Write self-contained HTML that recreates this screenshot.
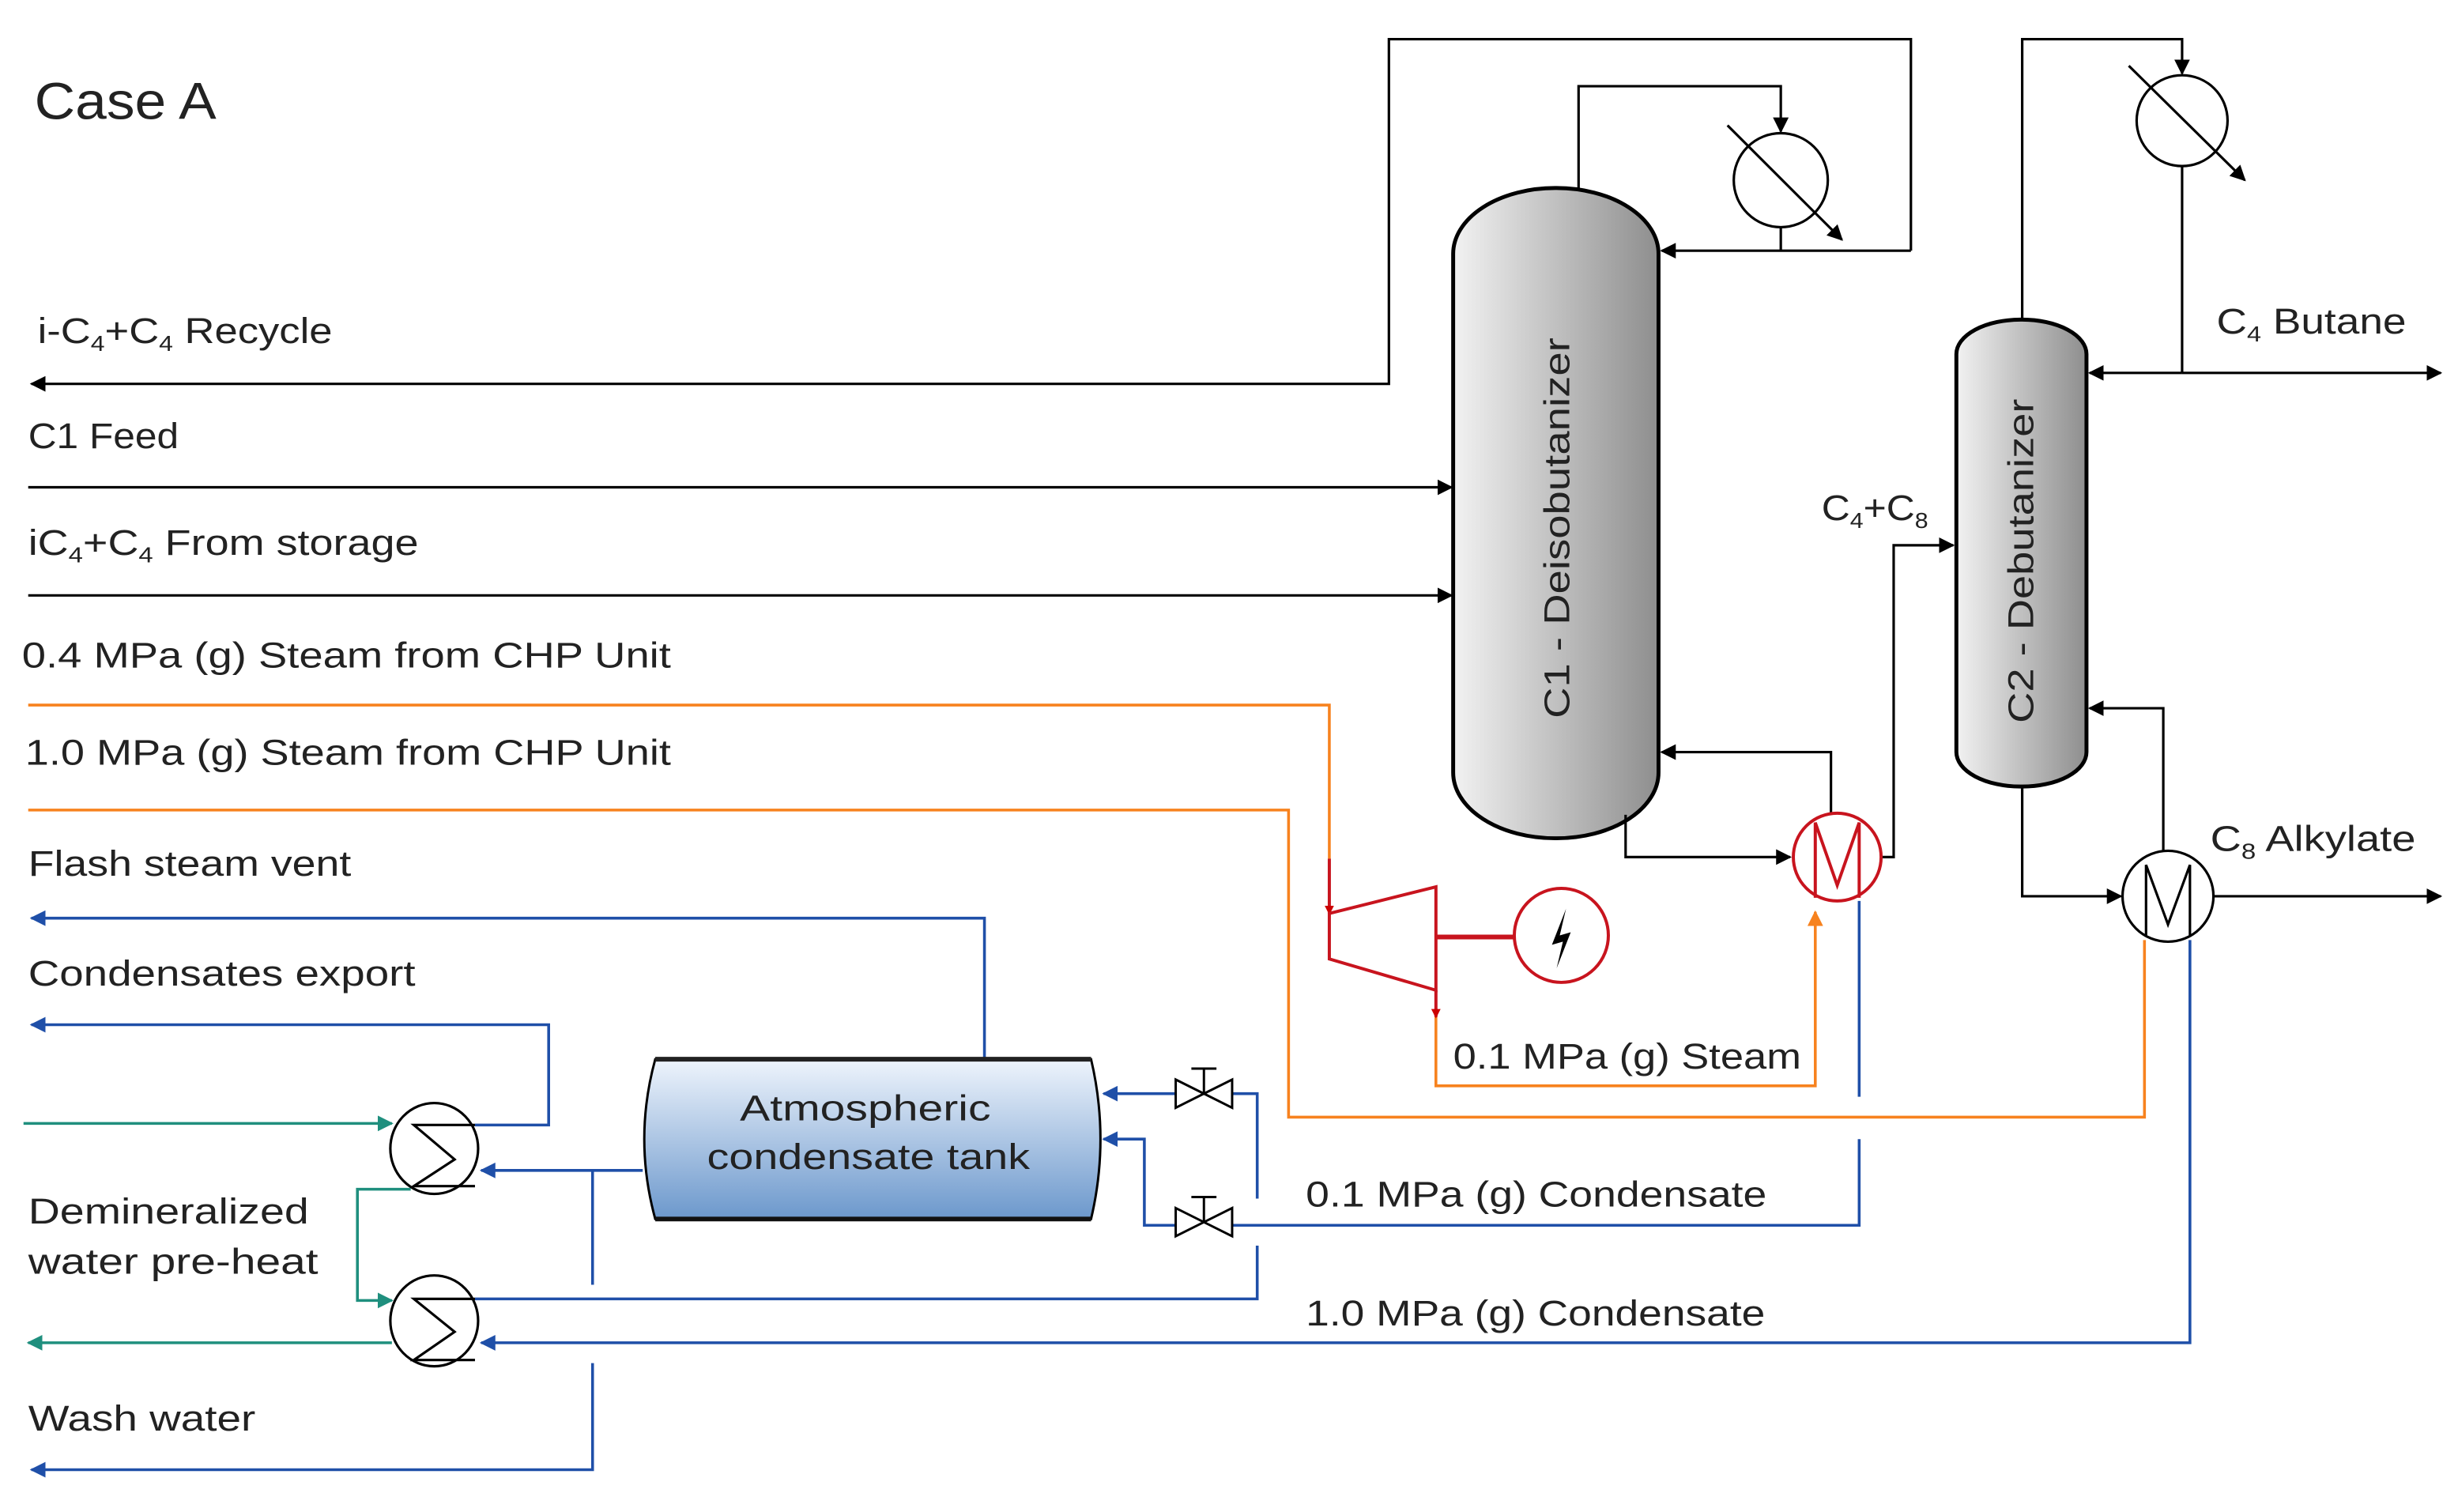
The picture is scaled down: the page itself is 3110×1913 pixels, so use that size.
<!DOCTYPE html>
<html><head><meta charset="utf-8"><style>
html,body{margin:0;padding:0;background:#fff}
svg{display:block}
text{font-family:"Liberation Sans",sans-serif;fill:#222}
</style></head><body>
<svg width="3110" height="1913" viewBox="0 0 1568 965" preserveAspectRatio="none" xmlns="http://www.w3.org/2000/svg">
<defs>
<linearGradient id="g" x1="0" x2="1" y1="0" y2="0"><stop offset="0" stop-color="#f2f2f2"/><stop offset="1" stop-color="#8e8e8e"/></linearGradient>
<linearGradient id="b" x1="0" x2="0" y1="0" y2="1"><stop offset="0" stop-color="#eef4fc"/><stop offset="1" stop-color="#6c98cc"/></linearGradient>
<marker id="ak" markerWidth="10" markerHeight="10" refX="9" refY="5" orient="auto" markerUnits="userSpaceOnUse"><path d="M0,0 L10,5 L0,10 Z" fill="#000"/></marker>
<marker id="ab" markerWidth="10" markerHeight="10" refX="9" refY="5" orient="auto" markerUnits="userSpaceOnUse"><path d="M0,0 L10,5 L0,10 Z" fill="#1f4fa8"/></marker>
<marker id="at" markerWidth="10" markerHeight="10" refX="9" refY="5" orient="auto" markerUnits="userSpaceOnUse"><path d="M0,0 L10,5 L0,10 Z" fill="#1f8f7e"/></marker>
<marker id="ao" markerWidth="10" markerHeight="10" refX="9" refY="5" orient="auto" markerUnits="userSpaceOnUse"><path d="M0,0 L10,5 L0,10 Z" fill="#f7821e"/></marker>
<marker id="ar" markerWidth="6" markerHeight="6" refX="5" refY="3" orient="auto" markerUnits="userSpaceOnUse"><path d="M0,0 L6,3 L0,6 Z" fill="#c00"/></marker>
</defs>
<text x="22" y="76" font-size="33" textLength="116" lengthAdjust="spacingAndGlyphs">Case A</text>

<!-- columns -->
<rect x="927" y="120" width="131" height="415" rx="65" ry="42" fill="url(#g)" stroke="#000" stroke-width="2.5"/>
<text transform="translate(1001,337) rotate(-90)" text-anchor="middle" font-size="23" textLength="243" lengthAdjust="spacingAndGlyphs">C1 - Deisobutanizer</text>
<rect x="1248" y="204" width="83" height="298" rx="41" ry="22" fill="url(#g)" stroke="#000" stroke-width="2.5"/>
<text transform="translate(1297,358) rotate(-90)" text-anchor="middle" font-size="23" textLength="207" lengthAdjust="spacingAndGlyphs">C2 - Debutanizer</text>

<g fill="none" stroke="#000" stroke-width="1.6">
<polyline points="1007,120 1007,55 1136,55 1136,84" marker-end="url(#ak)"/>
<polyline points="1219,160 1060,160" marker-end="url(#ak)"/>
<line x1="1136" y1="145" x2="1136" y2="160"/>
<polyline points="1219,160 1219,25 886,25 886,245 20,245" marker-end="url(#ak)"/>
<circle cx="1136" cy="115" r="30"/>
<line x1="1102" y1="80" x2="1175" y2="153" marker-end="url(#ak)"/>
<polyline points="1290,204 1290,25 1392,25 1392,47" marker-end="url(#ak)"/>
<circle cx="1392" cy="77" r="29"/>
<line x1="1358" y1="42" x2="1432" y2="115" marker-end="url(#ak)"/>
<line x1="1392" y1="106" x2="1392" y2="238"/>
<line x1="1392" y1="238" x2="1333" y2="238" marker-end="url(#ak)"/>
<line x1="1392" y1="238" x2="1557" y2="238" marker-end="url(#ak)"/>
<line x1="18" y1="311" x2="926" y2="311" marker-end="url(#ak)"/>
<line x1="18" y1="380" x2="926" y2="380" marker-end="url(#ak)"/>
<polyline points="1037,520 1037,547 1142,547" marker-end="url(#ak)"/>
<polyline points="1168,520 1168,480 1060,480" marker-end="url(#ak)"/>
<polyline points="1200,547 1208,547 1208,348 1246,348" marker-end="url(#ak)"/>
<polyline points="1290,502 1290,572 1353,572" marker-end="url(#ak)"/>
<line x1="1412" y1="572" x2="1557" y2="572" marker-end="url(#ak)"/>
<polyline points="1380,543 1380,452 1333,452" marker-end="url(#ak)"/>
<circle cx="1383" cy="572" r="29"/>
<polyline points="1369,598 1369,552 1383,590 1397,552 1397,598"/>
</g>

<g fill="none" stroke="#f7821e" stroke-width="1.8">
<polyline points="18,450 848,450 848,548"/>
<polyline points="18,517 822,517 822,713 1368,713 1368,600"/>
<polyline points="916,648 916,693 1158,693 1158,582" marker-end="url(#ao)"/>
</g>
<g fill="none" stroke="#c8141e" stroke-width="2">
<line x1="848" y1="548" x2="848" y2="583" marker-end="url(#ar)"/>
<polygon points="848,583 916,566 916,632 848,612"/>
<line x1="916" y1="632" x2="916" y2="649" marker-end="url(#ar)"/>
<line x1="916" y1="598" x2="966" y2="598" stroke-width="3"/>
<circle cx="996" cy="597" r="30"/>
<circle cx="1172" cy="547" r="28"/>
<polyline points="1158,573 1158,525 1172,565 1186,525 1186,573"/>
</g>
<path d="M999,580 L990,603 L997,601 L993,618 L1002,595 L995,597 Z" fill="#000"/>

<g fill="none" stroke="#1f4fa8" stroke-width="1.8">
<polyline points="628,676 628,586 20,586" marker-end="url(#ab)"/>
<polyline points="303,718 350,718 350,654 20,654" marker-end="url(#ab)"/>
<line x1="410" y1="747" x2="307" y2="747" marker-end="url(#ab)"/>
<line x1="378" y1="747" x2="378" y2="820"/>
<polyline points="378,870 378,938 20,938" marker-end="url(#ab)"/>
<line x1="1186" y1="575" x2="1186" y2="700"/>
<polyline points="1186,727 1186,782 786,782"/>
<polyline points="750,782 730,782 730,727 704,727" marker-end="url(#ab)"/>
<line x1="750" y1="698" x2="704" y2="698" marker-end="url(#ab)"/>
<polyline points="786,698 802,698 802,765"/>
<polyline points="802,795 802,829 303,829"/>
<polyline points="1397,600 1397,857 307,857" marker-end="url(#ab)"/>
</g>
<g fill="none" stroke="#000" stroke-width="1.5">
<path d="M750,689 L786,707 L786,689 L750,707 Z M768,698 L768,682 M760,682 L776,682"/>
<path d="M750,771 L786,789 L786,771 L750,789 Z M768,780 L768,764 M760,764 L776,764"/>
</g>
<g fill="none" stroke="#1f8f7e" stroke-width="1.8">
<line x1="15" y1="717" x2="250" y2="717" marker-end="url(#at)"/>
<polyline points="262,759 228,759 228,830 250,830" marker-end="url(#at)"/>
<line x1="250" y1="857" x2="18" y2="857" marker-end="url(#at)"/>
</g>
<g fill="none" stroke="#000" stroke-width="1.6">
<ellipse cx="277" cy="733" rx="28" ry="29"/>
<polyline points="303,718 264,718 290,740 264,757 303,757"/>
<ellipse cx="277" cy="843" rx="28" ry="29"/>
<polyline points="303,829 264,829 290,850 264,868 303,868"/>
</g>
<path d="M418,676 L696,676 Q708,727 696,778 L418,778 Q404,727 418,676 Z" fill="url(#b)" stroke="#000" stroke-width="1.5"/>
<line x1="418" y1="676" x2="696" y2="676" stroke="#222" stroke-width="3"/>
<line x1="418" y1="778" x2="696" y2="778" stroke="#111" stroke-width="3"/>
<text x="472" y="715" font-size="23" textLength="160" lengthAdjust="spacingAndGlyphs">Atmospheric</text>
<text x="451" y="746" font-size="23" textLength="206" lengthAdjust="spacingAndGlyphs">condensate tank</text>

<g font-size="23">
<text x="24" y="219" textLength="188" lengthAdjust="spacingAndGlyphs">i-C<tspan font-size="14" dy="5">4</tspan><tspan dy="-5">+C</tspan><tspan font-size="14" dy="5">4</tspan><tspan dy="-5"> Recycle</tspan></text>
<text x="18" y="286" textLength="96" lengthAdjust="spacingAndGlyphs">C1 Feed</text>
<text x="18" y="354" textLength="249" lengthAdjust="spacingAndGlyphs">iC<tspan font-size="14" dy="5">4</tspan><tspan dy="-5">+C</tspan><tspan font-size="14" dy="5">4</tspan><tspan dy="-5"> From storage</tspan></text>
<text x="14" y="426" textLength="414" lengthAdjust="spacingAndGlyphs">0.4 MPa (g)  Steam from CHP Unit</text>
<text x="16" y="488" textLength="412" lengthAdjust="spacingAndGlyphs">1.0 MPa (g)  Steam from CHP Unit</text>
<text x="18" y="559" textLength="206" lengthAdjust="spacingAndGlyphs">Flash steam vent</text>
<text x="18" y="629" textLength="247" lengthAdjust="spacingAndGlyphs">Condensates export</text>
<text x="18" y="781" textLength="179" lengthAdjust="spacingAndGlyphs">Demineralized</text>
<text x="18" y="813" textLength="185" lengthAdjust="spacingAndGlyphs">water pre-heat</text>
<text x="18" y="913" textLength="145" lengthAdjust="spacingAndGlyphs">Wash water</text>
<text x="927" y="682" textLength="222" lengthAdjust="spacingAndGlyphs">0.1 MPa (g) Steam</text>
<text x="833" y="770" textLength="294" lengthAdjust="spacingAndGlyphs">0.1 MPa (g) Condensate</text>
<text x="833" y="846" textLength="293" lengthAdjust="spacingAndGlyphs">1.0 MPa (g) Condensate</text>
<text x="1162" y="332" textLength="68" lengthAdjust="spacingAndGlyphs">C<tspan font-size="14" dy="5">4</tspan><tspan dy="-5">+C</tspan><tspan font-size="14" dy="5">8</tspan></text>
<text x="1414" y="213" textLength="121" lengthAdjust="spacingAndGlyphs">C<tspan font-size="14" dy="5">4</tspan><tspan dy="-5"> Butane</tspan></text>
<text x="1410" y="543" textLength="131" lengthAdjust="spacingAndGlyphs">C<tspan font-size="14" dy="5">8</tspan><tspan dy="-5"> Alkylate</tspan></text>
</g>
</svg>
</body></html>
